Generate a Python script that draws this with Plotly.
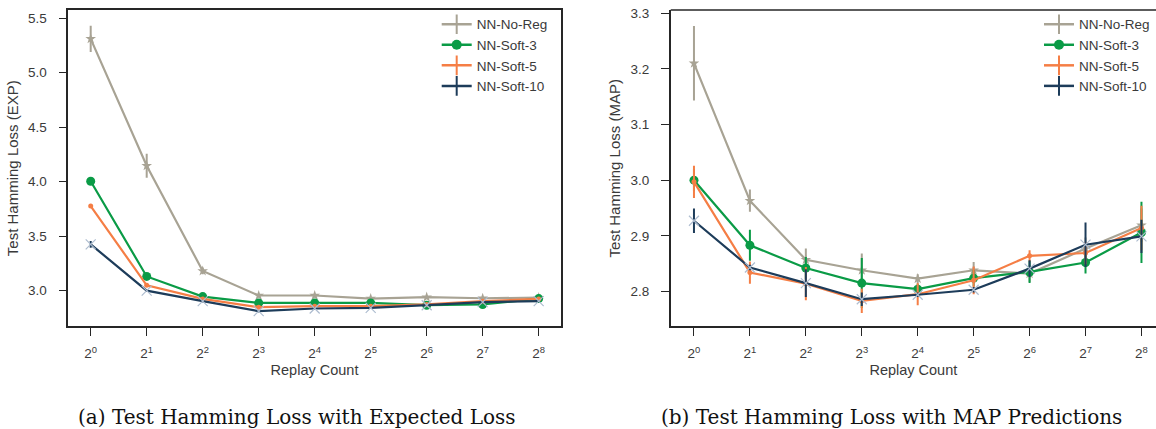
import plotly.graph_objects as go

# ---------------- data ----------------
replay_exp = [0, 1, 2, 3, 4, 5, 6, 7, 8]          # log2 of replay count
tick_labels = ["2<sup>%d</sup>" % e for e in replay_exp]
series_names = ["NN-No-Reg", "NN-Soft-3", "NN-Soft-5", "NN-Soft-10"]

# (a) expected loss
exp_noreg = [5.31, 4.145, 3.18, 2.955, 2.955, 2.927, 2.94, 2.93, 2.935]
exp_noreg_err = [0.12, 0.11, 0.03, 0.01, 0.01, 0.01, 0.01, 0.01, 0.01]
exp_soft3 = [4.003, 3.13, 2.945, 2.887, 2.887, 2.887, 2.866, 2.873, 2.927]
exp_soft3_err = [0.01, 0.01, 0.01, 0.01, 0.01, 0.01, 0.01, 0.01, 0.01]
exp_soft5 = [3.776, 3.048, 2.924, 2.848, 2.857, 2.857, 2.873, 2.903, 2.924]
exp_soft5_err = [0.01, 0.01, 0.01, 0.01, 0.01, 0.01, 0.01, 0.01, 0.01]
exp_soft10 = [3.424, 3.0, 2.903, 2.812, 2.836, 2.842, 2.866, 2.894, 2.903]
exp_soft10_err = [0.03, 0.01, 0.01, 0.01, 0.01, 0.01, 0.01, 0.01, 0.01]

# (b) MAP predictions
map_noreg = [3.21, 2.963, 2.857, 2.838, 2.823, 2.838, 2.832, 2.877, 2.919]
map_noreg_err = [0.067, 0.02, 0.02, 0.03, 0.008, 0.015, 0.015, 0.02, 0.03]
map_soft3 = [3.0, 2.883, 2.842, 2.815, 2.804, 2.824, 2.835, 2.852, 2.906]
map_soft3_err = [0.02, 0.028, 0.02, 0.045, 0.01, 0.015, 0.02, 0.02, 0.055]
map_soft5 = [2.997, 2.834, 2.814, 2.783, 2.795, 2.82, 2.864, 2.869, 2.914]
map_soft5_err = [0.029, 0.02, 0.03, 0.022, 0.02, 0.025, 0.01, 0.02, 0.04]
map_soft10 = [2.927, 2.843, 2.815, 2.786, 2.794, 2.803, 2.841, 2.884, 2.899]
map_soft10_err = [0.022, 0.005, 0.025, 0.012, 0.004, 0.005, 0.015, 0.04, 0.03]

# ---------------- style ----------------
colors = ["#a8a394", "#0a9b46", "#f57e45", "#1d3c5a"]
marker_colors = ["#a8a394", "#0a9b46", "#f57e45", "#aebdd0"]
markers = [
    dict(symbol="star", size=8),
    dict(symbol="circle", size=9),
    dict(symbol="circle", size=5),
    dict(symbol="x-thin-open", size=10, line=dict(width=1.2)),
]
legend_markers = [
    dict(symbol="line-ns-open", size=14, line=dict(width=2)),
    dict(symbol="circle", size=10),
    dict(symbol="line-ns-open", size=14, line=dict(width=2)),
    dict(symbol="line-ns-open", size=14, line=dict(width=2)),
]
SANS = "Liberation Sans, Arial, sans-serif"
SERIF = "DejaVu Serif, serif"
AXC = "#262626"
TXC = "#3a3a3a"

fig = go.Figure()

panels = [
    ("x", "y", "legend", [exp_noreg, exp_soft3, exp_soft5, exp_soft10],
     [exp_noreg_err, exp_soft3_err, exp_soft5_err, exp_soft10_err]),
    ("x2", "y2", "legend2", [map_noreg, map_soft3, map_soft5, map_soft10],
     [map_noreg_err, map_soft3_err, map_soft5_err, map_soft10_err]),
]

for xa, ya, lg, vals, errs in panels:
    for i, name in enumerate(series_names):
        mk = dict(markers[i])
        mk["color"] = marker_colors[i]
        if "line" in mk:
            mk["line"] = dict(mk["line"], color=marker_colors[i])
        fig.add_trace(go.Scatter(
            x=replay_exp, y=vals[i], mode="lines+markers", name=name,
            line=dict(color=colors[i], width=2.2),
            marker=mk,
            error_y=dict(type="data", array=errs[i], visible=True,
                         color=colors[i], thickness=2, width=0),
            xaxis=xa, yaxis=ya, showlegend=False, hoverinfo="skip"))
    # legend entries
    for i, name in enumerate(series_names):
        lm = dict(legend_markers[i])
        lm["color"] = colors[i]
        if "line" in lm:
            lm["line"] = dict(lm["line"], color=colors[i])
        fig.add_trace(go.Scatter(
            x=[None], y=[None], mode="lines+markers", name=name,
            line=dict(color=colors[i], width=2.5), marker=lm,
            xaxis=xa, yaxis=ya, legend=lg, showlegend=True))

W, H = 1156, 429
ydom = [(H - 325.5) / H, (H - 6) / H]

common_x = dict(
    tickvals=replay_exp, ticktext=tick_labels, showgrid=False, zeroline=False,
    showline=True, linecolor=AXC, linewidth=1.6, ticks="outside", ticklen=8,
    tickwidth=1.3, tickcolor=AXC, tickfont=dict(family=SANS, size=13.5, color=TXC),
    ticklabelstandoff=6,
    title=dict(text="Replay Count", font=dict(family=SANS, size=14.5, color=TXC),
               standoff=4),
)
common_y = dict(
    showgrid=False, zeroline=False, showline=True, linecolor=AXC, linewidth=1.6,
    ticks="outside", ticklen=8, tickwidth=1.3, tickcolor=AXC,
    tickfont=dict(family=SANS, size=13.5, color=TXC), ticklabelstandoff=9,
)

fig.update_layout(
    width=W, height=H, margin=dict(l=0, r=0, t=0, b=0),
    paper_bgcolor="white", plot_bgcolor="white",
    xaxis=dict(common_x, domain=[68.3 / W, 560.7 / W], range=[-0.40, 8.393],
               mirror=True, anchor="y"),
    yaxis=dict(common_y, domain=ydom, range=[2.671, 5.575], mirror=True,
               tickvals=[3.0, 3.5, 4.0, 4.5, 5.0, 5.5], tickformat=".1f",
               anchor="x",
               title=dict(text="Test Hamming Loss (EXP)",
                          font=dict(family=SANS, size=15, color=TXC), standoff=6)),
    xaxis2=dict(common_x, domain=[670.7 / W, 1.0], range=[-0.416, 8.26],
                anchor="y2"),
    yaxis2=dict(common_y, domain=ydom, range=[2.737, 3.306],
                tickvals=[2.8, 2.9, 3.0, 3.1, 3.2, 3.3], tickformat=".1f",
                anchor="x2",
                title=dict(text="Test Hamming Loss (MAP)",
                           font=dict(family=SANS, size=15, color=TXC), standoff=6)),
    legend=dict(x=(476.7 - 40) / W, y=1 - 5 / H, xanchor="left", yanchor="top",
                bgcolor="rgba(0,0,0,0)", font=dict(family=SANS, size=13.5, color=TXC),
                tracegroupgap=0),
    legend2=dict(x=(1079 - 40) / W, y=1 - 5 / H, xanchor="left", yanchor="top",
                 bgcolor="rgba(0,0,0,0)", font=dict(family=SANS, size=13.5, color=TXC),
                 tracegroupgap=0),
    showlegend=True,
)

# top frame line of right panel (right edge lies outside the picture)
fig.add_shape(type="line", xref="x2 domain", yref="y2 domain", x0=0, x1=1, y0=1, y1=1,
              line=dict(color=AXC, width=1.6))

# captions
fig.add_annotation(text="(a) Test Hamming Loss with Expected Loss", xref="paper", yref="paper",
                   x=297 / W, y=1 - 417 / H, showarrow=False, xanchor="center", yanchor="middle",
                   font=dict(family=SERIF, size=20, color="#111111"))
fig.add_annotation(text="(b) Test Hamming Loss with MAP Predictions", xref="paper", yref="paper",
                   x=891.5 / W, y=1 - 417 / H, showarrow=False, xanchor="center", yanchor="middle",
                   font=dict(family=SERIF, size=20, color="#111111"))

fig.write_html("out.html", config={"displayModeBar": False},
               post_script="document.body.style.margin='0';document.body.style.padding='0';")
